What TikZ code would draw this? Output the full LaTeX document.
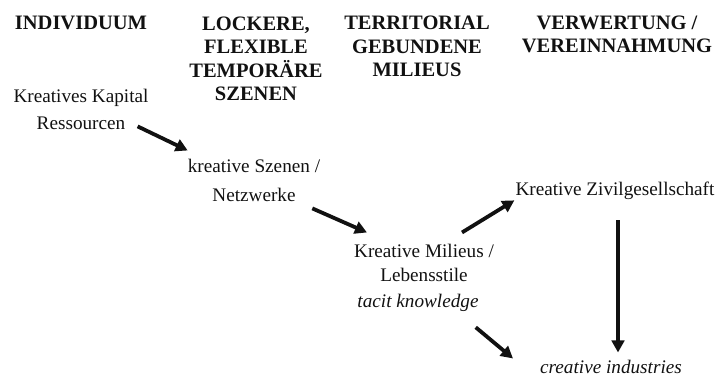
\documentclass[tikz,border=0pt]{standalone}
\usepackage{fontspec}
\setmainfont{Liberation Serif}
\usepackage{tikz}
\usetikzlibrary{arrows.meta}
\definecolor{cInk}{HTML}{111111}
\tikzset{
  head/.style={font=\bfseries\fontsize{20.5}{23.5}\selectfont, text=cInk,
               align=center, inner sep=0pt, anchor=base},
  txt/.style={font=\fontsize{19.2}{#1}\selectfont, text=cInk,
              align=center, inner sep=0pt, anchor=base},
  txt/.default=27,
  itxt/.style={txt, font=\itshape\fontsize{19.2}{27}\selectfont},
  flow/.style={-{Triangle[length=12pt,width=12.5pt]}, line width=3.8pt, draw=cInk},
}

\begin{document}
\begin{tikzpicture}[x=1pt, y=-1pt]
  \useasboundingbox (0,0) rectangle (715,382);

  % column headings (placed at the baseline of their last line)
  \node[head] (hInd)  at (81,30)   {INDIVIDUUM};
  \node[head] (hSzen) at (256,101) {LOCKERE,\\FLEXIBLE\\TEMPORÄRE\\SZENEN};
  \node[head] (hMil)  at (417,77)  {TERRITORIAL\\GEBUNDENE\\MILIEUS};
  \node[head] (hVerw) at (617,53)  {VERWERTUNG /\\VEREINNAHMUNG};

  \node[txt]     (kap)   at (81,130)  {Kreatives Kapital\\Ressourcen};
  \node[txt=29]  (szen)  at (254,202) {kreative Szenen /\\Netzwerke};
  \node[txt=24]  (mil)   at (424,281) {Kreative Milieus /\\Lebensstile};
  \node[itxt]    (tacit) at (418,307) {tacit knowledge};
  \node[txt]     (ziv)   at (615,196) {Kreative Zivilgesellschaft};
  \node[itxt]    (ind)   at (611,373) {creative industries};

  \draw[flow] ([xshift=-11pt,yshift=4pt]kap.south east) -- ([yshift=9pt]szen.north west);
  \draw[flow] ([xshift=-8pt,yshift=-6pt]szen.south east) -- ([xshift=13pt,yshift=11pt]mil.north west);
  \draw[flow] ([xshift=38pt,yshift=11pt]mil.north) -- ([xshift=-1pt]ziv.south west);
  \draw[flow] ([xshift=3pt,yshift=-20pt]ziv.south) -- ([xshift=3pt,yshift=7pt]ziv.south |- ind.north);
  \draw[flow] ([xshift=-3pt,yshift=-16pt]tacit.south east) -- ([xshift=-27pt,yshift=8pt]ind.west);
\end{tikzpicture}
\end{document}
